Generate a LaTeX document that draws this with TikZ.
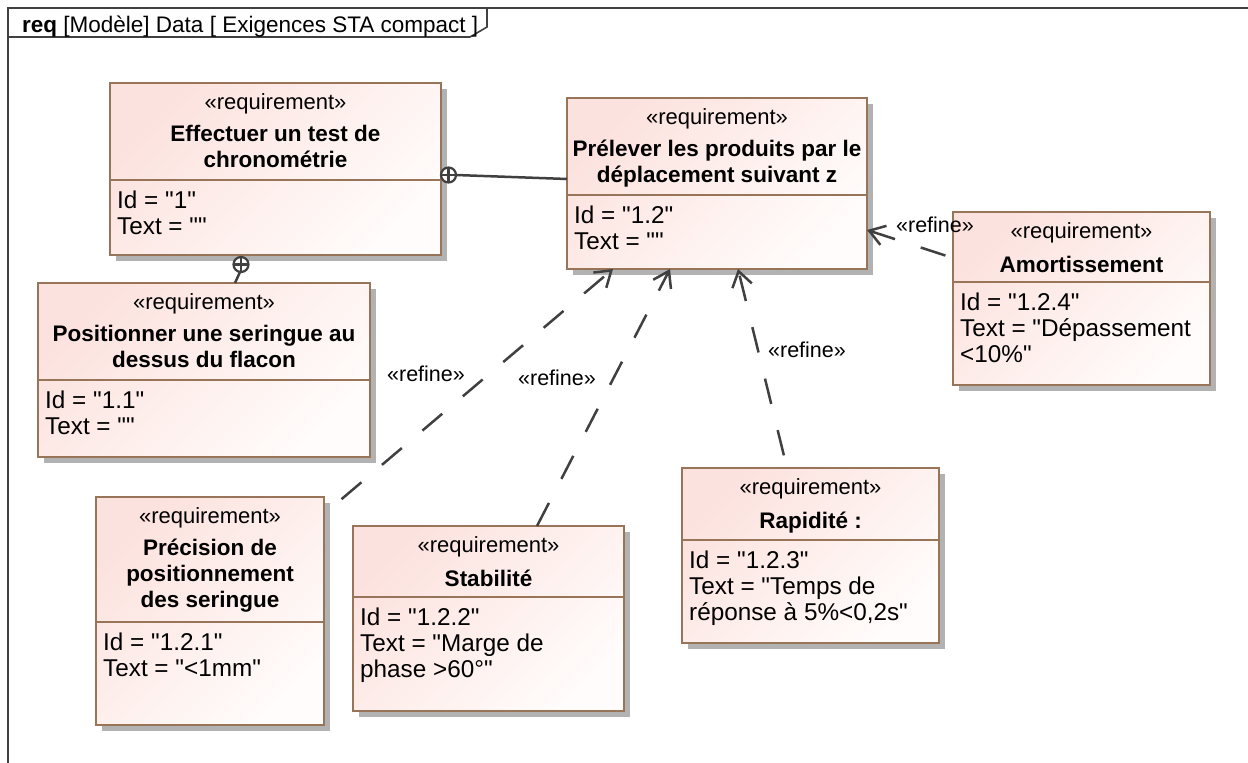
\documentclass[tikz,border=0pt]{standalone}
\usepackage{fontspec}
\setmainfont{Liberation Sans}[Ligatures=TeXOff]
\usetikzlibrary{arrows.meta,calc}
\definecolor{boxc}{RGB}{152,116,88}
\definecolor{fillA}{RGB}{252,226,222}
\definecolor{fillB}{RGB}{255,252,251}
\definecolor{shadc}{RGB}{178,178,178}
\definecolor{linec}{RGB}{64,64,64}
\tikzset{
  reqframe/.style={draw=boxc, line width=2.6pt, top color=fillA, bottom color=fillB, shading angle=45, inner sep=0pt, outer sep=0pt},
  boxline/.style={draw=boxc, line width=2.6pt},
  stereo/.style={font=\fontsize{22}{26}\selectfont, inner sep=0pt},
  rtitle/.style={font=\fontsize{22.5}{26}\selectfont\bfseries, align=center, inner sep=0pt, anchor=north, execute at begin node=\strut, execute at end node=\strut},
  rattr/.style={font=\fontsize{24.3}{26}\selectfont, align=left, inner sep=0pt, anchor=north west, execute at begin node=\strut, execute at end node=\strut},
  conn/.style={draw=linec, line width=2.5pt},
  refine/.style={conn, dash pattern=on 26pt off 27pt, -{Straight Barb[length=15pt,width=20pt]}},
  lbl/.style={font=\fontsize{21.5}{24}\selectfont, inner sep=0pt},
  framel/.style={draw=linec, line width=1.6pt}
}
\newcommand\reqshell[6]{%
  \fill[shadc] (#2+6,#3+6) rectangle (#4+6,#5+6);
  \node[reqframe, minimum width={(#4-#2)*1pt}, minimum height={(#5-#3)*1pt}] (#1) at ({(#2+#4)/2},{(#3+#5)/2}) {};
  \draw[boxline] (#2,#6) -- (#4,#6);
  \node[stereo] (#1-st) at ({(#2+#4)/2},#3+21) {«requirement»};
}
\begin{document}
\begin{tikzpicture}[x=1pt,y=-1pt]
\useasboundingbox (0,0) rectangle (1248,763);
\fill[white] (0,0) rectangle (1248,763);
% frame
\draw[framel] (8,763) -- (8,8) -- (1248,8);
\draw[framel] (8,37) -- (470,37) -- (487,27) -- (487,8);
\node[font=\fontsize{22.5}{26}\selectfont, inner sep=0pt, anchor=base west] (hdr) at (22,32) {\textbf{req} [Modèle] Data [ Exigences STA compact ]};

% boxes
\reqshell{b1}{110}{83}{441}{255}{180}
\node[rtitle] (b1-t) at (275.5,125) {Effectuer un test de\\chronométrie};
\node[rattr] (b1-a) at (117,191) {Id = "1"\\Text = ""};

\reqshell{b2}{567}{98}{867}{269}{195}
\node[rtitle] (b2-t) at (717,140) {Prélever les produits par le\\déplacement suivant z};
\node[rattr] (b2-a) at (574,206) {Id = "1.2"\\Text = ""};

\reqshell{b3}{38}{283}{370}{457}{380}
\node[rtitle] (b3-t) at (204,325) {Positionner une seringue au\\dessus du flacon};
\node[rattr] (b3-a) at (45,391) {Id = "1.1"\\Text = ""};

\reqshell{am}{953}{212}{1210}{385}{282}
\node[rtitle] (am-t) at (1081.5,254) {Amortissement};
\node[rattr] (am-a) at (960,293) {Id = "1.2.4"\\Text = "Dépassement\\<10\%"};

\reqshell{pr}{96}{497}{324}{725}{622}
\node[rtitle] (pr-t) at (210,539) {Précision de\\positionnement\\des seringue};
\node[rattr] (pr-a) at (103,633) {Id = "1.2.1"\\Text = "<1mm"};

\reqshell{st}{353}{526}{624}{711}{597}
\node[rtitle] (st-t) at (488.5,568) {Stabilité};
\node[rattr] (st-a) at (360,608) {Id = "1.2.2"\\Text = "Marge de\\phase >60°"};

\reqshell{ra}{682}{468}{939}{643}{540}
\node[rtitle] (ra-t) at (810.5,510) {Rapidité :};
\node[rattr] (ra-a) at (689,551) {Id = "1.2.3"\\Text = "Temps de\\réponse à 5\%<0,2s"};

% containment
\coordinate (c1) at ($(b1.east)+(7.5,6)$);
\coordinate (c2) at ($(b1.south west)+(131,9.5)$);
\draw[conn] ($(c1)+(7.5,0)$) -- ($(b2.west)+(0,-4.5)$);
\draw[conn] ($(c2)+(-1,7.5)$) -- ($(b3.north west)+(197,0)$);
\foreach \c in {c1,c2}{
  \fill[white] (\c) circle[radius=7.5pt];
  \draw[conn, line width=2.2pt] (\c) circle[radius=7.5pt];
  \draw[conn, line width=2.2pt] ($(\c)+(-7.5,0)$) -- ($(\c)+(7.5,0)$);
  \draw[conn, line width=2.2pt] ($(\c)+(0,-7.5)$) -- ($(\c)+(0,7.5)$);
}

% refine dependencies
\draw[refine, dash phase=30pt] ($(pr.north east)+(0,17)$) -- ($(b2.south west)+(46,0)$);
\draw[refine, dash phase=0pt] ($(st.north west)+(184,0)$) -- ($(b2.south west)+(103,0)$);
\draw[refine, dash phase=40pt] ($(ra.north west)+(105,0)$) -- ($(b2.south west)+(171,0)$);
\draw[refine, dash phase=45pt] ($(am.north west)+(0,46)$) -- ($(b2.north east)+(0,132)$);
\node[lbl] (l1) at (426,374) {«refine»};
\node[lbl] (l2) at (557,378) {«refine»};
\node[lbl] (l3) at (807,350) {«refine»};
\node[lbl] (l4) at (935,225) {«refine»};
\end{tikzpicture}
\end{document}
